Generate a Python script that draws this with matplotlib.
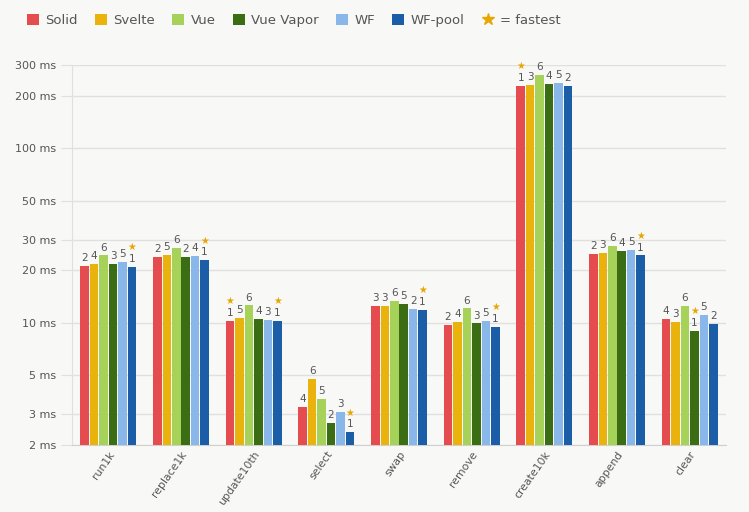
import matplotlib.pyplot as plt
from matplotlib.patches import Patch
from matplotlib.lines import Line2D
from matplotlib.ticker import FixedLocator, NullLocator
import numpy as np

# benchmark names and frameworks
tests = ['run1k', 'replace1k', 'update10th', 'select', 'swap',
         'remove', 'create10k', 'append', 'clear']
frameworks = ['Solid', 'Svelte', 'Vue', 'Vue Vapor', 'WF', 'WF-pool']
colors = ['#e44c50', '#e9b20c', '#a6d25a', '#3b6d14', '#8ab7ea', '#1b5ea7']

# times in ms, one list per framework
solid = [21.3, 23.8, 10.3, 3.29, 12.5, 9.73, 227.6, 24.8, 10.6]
svelte = [21.8, 24.5, 10.7, 4.78, 12.5, 10.1, 231.6, 25.1, 10.1]
vue = [24.4, 26.9, 12.6, 3.67, 13.4, 12.1, 264.0, 27.5, 12.5]
vue_vapor = [21.7, 23.9, 10.6, 2.67, 12.8, 9.95, 232.8, 25.8, 9.04]
wf = [22.3, 24.2, 10.4, 3.08, 12.0, 10.3, 237.8, 26.2, 11.1]
wf_pool = [21.0, 22.9, 10.26, 2.37, 11.9, 9.48, 228.4, 24.4, 9.86]

# rank labels printed above each bar
rank_solid = [2, 2, 1, 4, 3, 2, 1, 2, 4]
rank_svelte = [4, 5, 5, 6, 3, 4, 3, 3, 3]
rank_vue = [6, 6, 6, 5, 6, 6, 6, 6, 6]
rank_vapor = [3, 2, 4, 2, 5, 3, 4, 4, 1]
rank_wf = [5, 4, 3, 3, 2, 5, 5, 5, 5]
rank_pool = [1, 1, 1, 1, 1, 1, 2, 1, 2]

yticks = [2, 3, 5, 10, 20, 30, 50, 100, 200, 300]

values = [solid, svelte, vue, vue_vapor, wf, wf_pool]
ranks = [rank_solid, rank_svelte, rank_vue, rank_vapor, rank_wf, rank_pool]

bg = '#f8f8f7'
grid_c = '#e0e0df'
text_c = '#555555'
star_c = '#e8a600'

fig = plt.figure(figsize=(7.49, 5.12), dpi=100, facecolor=bg)
ax = fig.add_axes([0.0961, 0.1309, 0.8732, 0.7421], facecolor=bg)

x = np.arange(len(tests))
w = 0.13
for i, (vals, rk, c) in enumerate(zip(values, ranks, colors)):
    xs = x + (i - 2.5) * w
    ax.bar(xs, vals, width=w * 0.9, color=c, zorder=3)
    for xx, v, r in zip(xs, vals, rk):
        ax.annotate(str(r), (xx, v), xytext=(0, 2), textcoords='offset points',
                    ha='center', va='bottom', fontsize=7.5, color=text_c)
        if r == 1:
            ax.annotate('★', (xx, v), xytext=(0, 10.5), textcoords='offset points',
                        ha='center', va='bottom', fontsize=7, color=star_c)

ax.set_yscale('log')
ax.set_ylim(2, 300)
ax.set_xlim(-0.5, len(tests) - 0.5)
ax.yaxis.set_major_locator(FixedLocator(yticks))
ax.yaxis.set_minor_locator(NullLocator())
ax.set_yticklabels([f'{t} ms' for t in yticks])
ax.grid(axis='y', color=grid_c, lw=1, zorder=0)
ax.tick_params(axis='y', length=8, color=grid_c, labelsize=8, labelcolor=text_c)
ax.tick_params(axis='x', length=0, labelsize=7.8, labelcolor=text_c, pad=3)
ax.set_xticks(x)
ax.set_xticklabels(tests, rotation=55, ha='right', rotation_mode='anchor')
for s in ['top', 'right']:
    ax.spines[s].set_visible(False)
ax.spines['left'].set_color(grid_c)
ax.spines['bottom'].set_color('#cfcfce')

# legend across the top
handles = [Patch(facecolor=c, edgecolor='none', label=f) for f, c in zip(frameworks, colors)]
handles.append(Line2D([], [], ls='none', marker='*', ms=9, color=star_c, label='= fastest'))
fig.legend(handles=handles, loc='upper left', bbox_to_anchor=(0.02, 0.995), ncol=7,
           frameon=False, handlelength=0.9, handleheight=0.9, handletextpad=0.5,
           columnspacing=1.3, fontsize=9.5, labelcolor=text_c)

fig.savefig('out.png', dpi=100, facecolor=bg)
